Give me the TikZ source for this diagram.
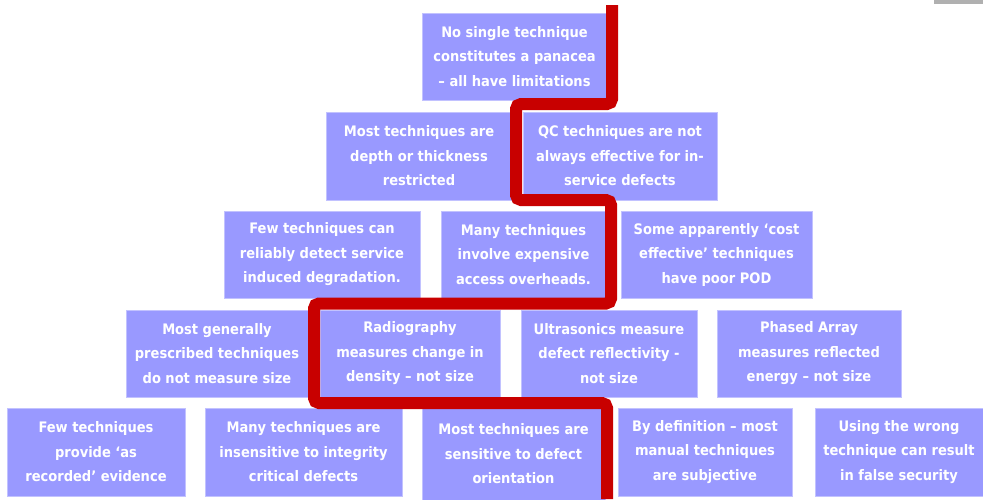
\documentclass[tikz,border=0pt]{standalone}
\usepackage{fontspec}
\setmainfont{DejaVu Sans Condensed}[BoldFont={DejaVu Sans Condensed Bold}]
\definecolor{boxblue}{RGB}{153,153,255}
\definecolor{redline}{RGB}{200,0,0}
\definecolor{cornergray}{RGB}{176,176,176}
\tikzset{
  pbox/.style={rectangle, fill=boxblue, draw=boxblue!60!white, line width=0.6pt,
    inner sep=0pt, align=center, text=white,
    font=\bfseries\fontsize{14.5}{24.5}\selectfont},
  redpath/.style={draw=redline, line width=12pt, rounded corners=5pt}
}
\begin{document}
\begin{tikzpicture}[x=1pt,y=-1pt]
\useasboundingbox (0,0) rectangle (983,499);
\fill[cornergray] (934,0) rectangle (983,3.5);
% row 1
\node[pbox, minimum width=185pt, minimum height=87pt] (r1) at (514.5,56.5)
  {No single technique\\constitutes a panacea\\– all have limitations};
% row 2
\node[pbox, minimum width=186pt, minimum height=88pt] (r2a) at (419,156)
  {Most techniques are\\depth or thickness\\restricted};
\node[pbox, minimum width=194pt, minimum height=88pt] (r2b) at (620,156)
  {QC techniques are not\\always effective for in-\\service defects};
% row 3
\node[pbox, minimum width=196pt, minimum height=87pt] (r3a) at (322,254.5)
  {Few techniques can\\reliably detect service\\induced degradation.};
\node[pbox, minimum width=165pt, minimum height=87pt] (r3b) at (523.5,254.5)
  {Many techniques\\involve expensive\\access overheads.};
\node[pbox, minimum width=191pt, minimum height=87pt] (r3c) at (716.5,254.5)
  {Some apparently ‘cost\\effective’ techniques\\have poor POD};
% row 4
\node[pbox, minimum width=182pt, minimum height=87pt] (r4a) at (217,353.5)
  {Most generally\\prescribed techniques\\do not measure size};
\node[pbox, minimum width=180pt, minimum height=87pt] (r4b) at (410,353.5)
  {Radiography\\measures change in\\density – not size};
\node[pbox, minimum width=176pt, minimum height=87pt] (r4c) at (609,353.5)
  {Ultrasonics measure\\defect reflectivity -\\not size};
\node[pbox, minimum width=184pt, minimum height=87pt] (r4d) at (809,353.5)
  {Phased Array\\measures reflected\\energy – not size};
% row 5
\node[pbox, minimum width=178pt, minimum height=88pt] (r5a) at (96,452)
  {Few techniques\\provide ‘as\\recorded’ evidence};
\node[pbox, minimum width=197pt, minimum height=88pt] (r5b) at (303.5,452)
  {Many techniques are\\insensitive to integrity\\critical defects};
\node[pbox, minimum width=183pt, minimum height=92pt] (r5c) at (513.5,454)
  {Most techniques are\\sensitive to defect\\orientation};
\node[pbox, minimum width=174pt, minimum height=88pt] (r5d) at (705,452)
  {By definition – most\\manual techniques\\are subjective};
\node[pbox, minimum width=168pt, minimum height=88pt] (r5e) at (899,452)
  {Using the wrong\\technique can result\\in false security};
% red line
\coordinate (s0) at (612,5);
\coordinate (s1) at (612,104);
\coordinate (s2) at (516,104);
\coordinate (s3) at (516,200);
\coordinate (s4) at (611,200);
\coordinate (s5) at (611,303.5);
\coordinate (s6) at (314,303.5);
\coordinate (s7) at (314,403);
\coordinate (s8) at (607,403);
\coordinate (s9) at (607,499);
\draw[redpath] (s0) -- (s1) -- (s2) -- (s3) -- (s4) -- (s5) -- (s6) -- (s7) -- (s8) -- (s9);
\end{tikzpicture}
\end{document}
